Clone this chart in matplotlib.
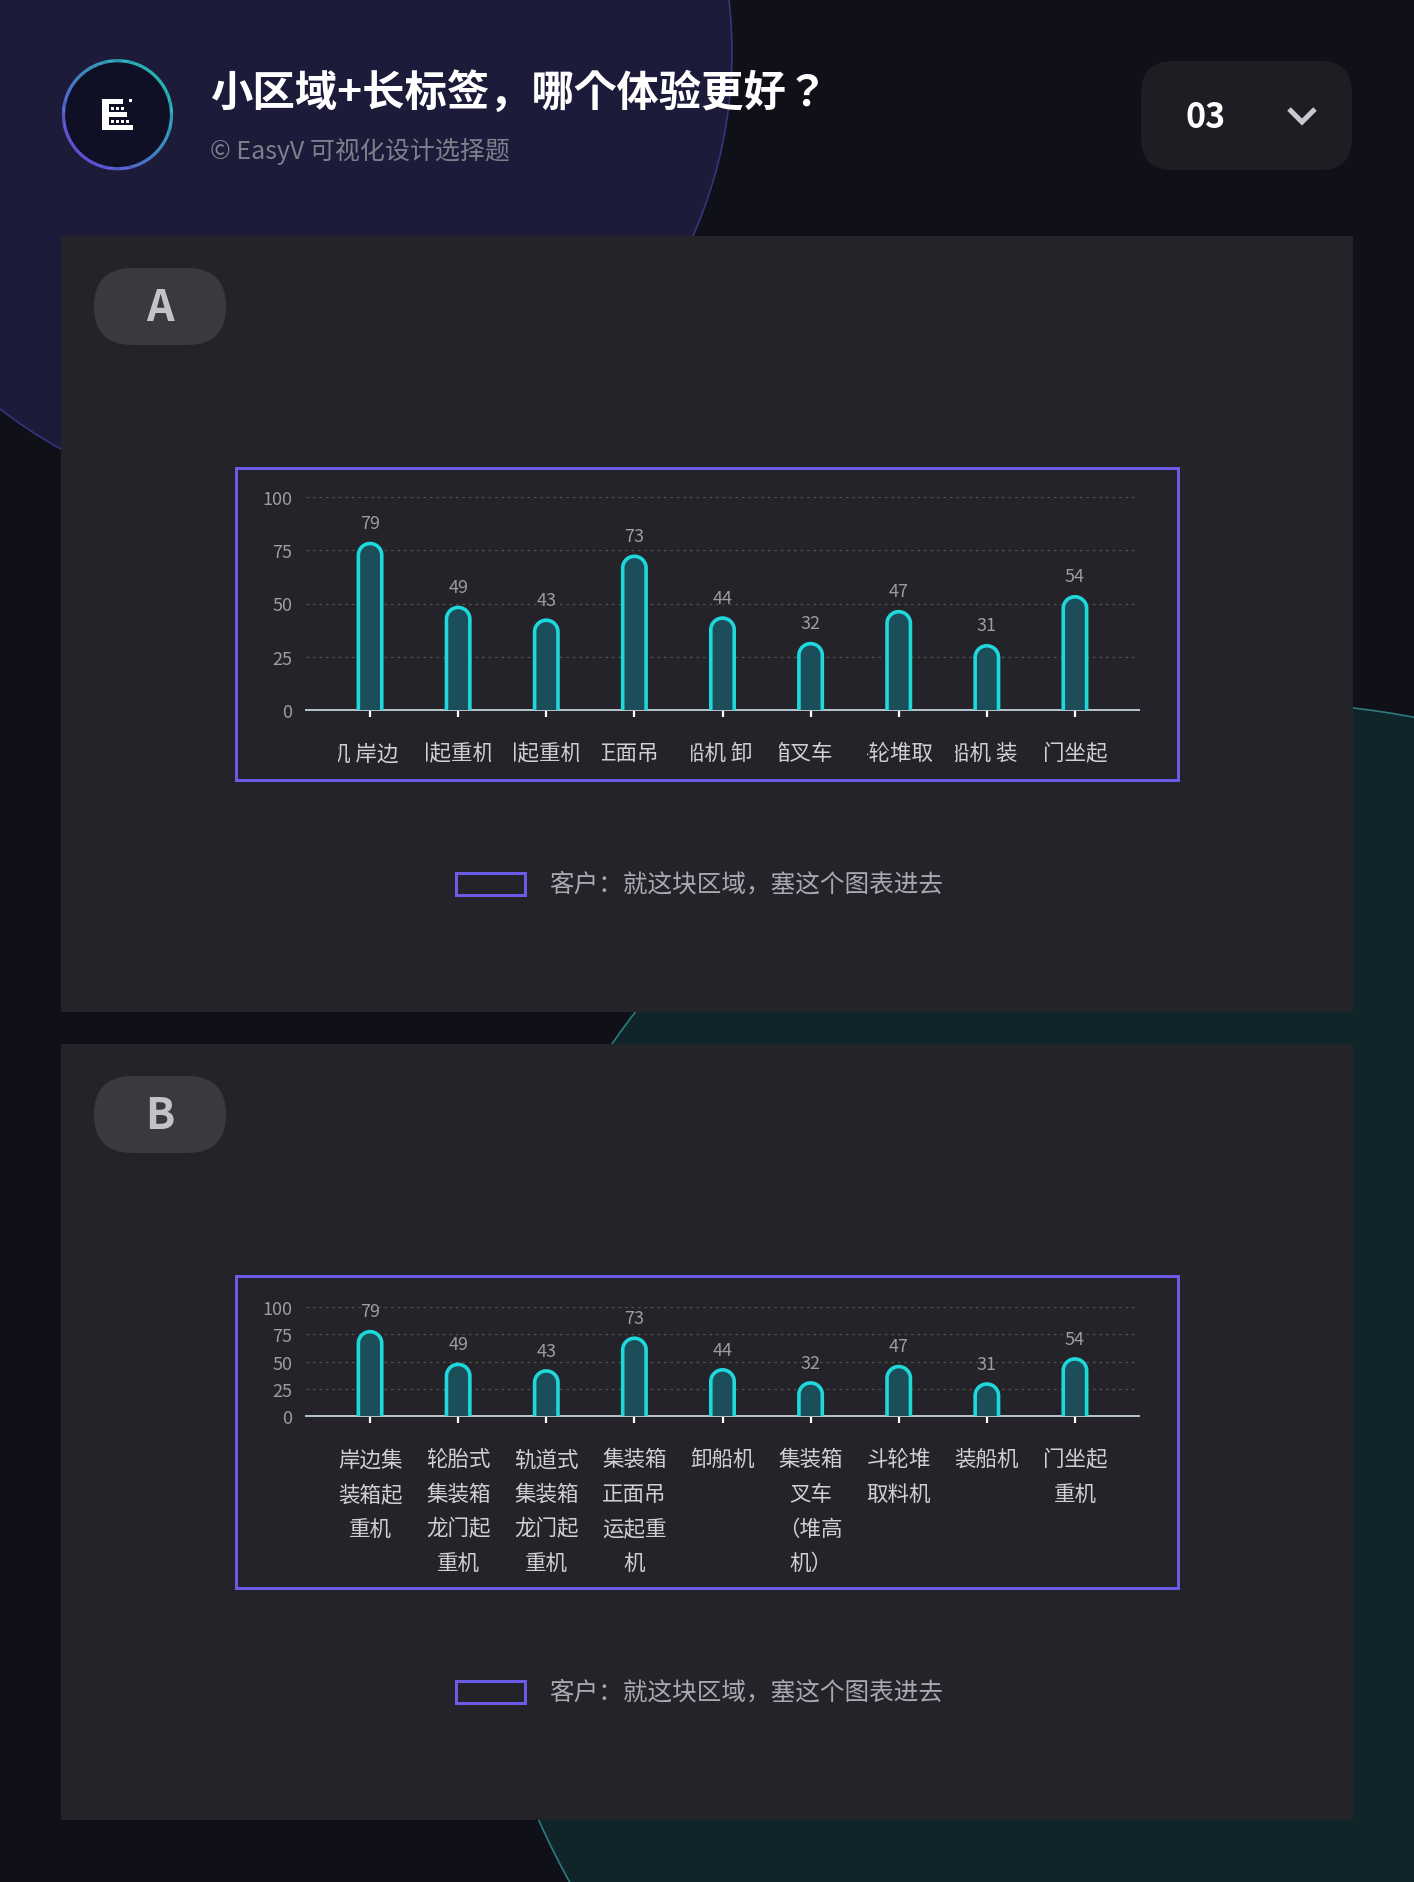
import numpy as np
import matplotlib
matplotlib.use("Agg")
import matplotlib.pyplot as plt
from matplotlib.patches import Circle, FancyBboxPatch, Rectangle, PathPatch
from matplotlib.path import Path
from matplotlib.transforms import IdentityTransform, Bbox
from matplotlib.collections import LineCollection

plt.rcParams['font.family'] = ['Noto Sans CJK SC', 'DejaVu Sans']

# ---------------- data ----------------
title = "小区域+长标签，哪个体验更好？"
subtitle = "© EasyV 可视化设计选择题"
page_no = "03"
panel_names = ["A", "B"]
legend_text = "客户：就这块区域，塞这个图表进去"
categories = ["岸边集装箱起重机", "轮胎式集装箱龙门起重机", "轨道式集装箱龙门起重机",
              "集装箱正面吊运起重机", "卸船机", "集装箱叉车（堆高机）",
              "斗轮堆取料机", "装船机", "门坐起重机"]
values = [79, 49, 43, 73, 44, 32, 47, 31, 54]
labels_wrapped = ["岸边集\n装箱起\n重机", "轮胎式\n集装箱\n龙门起\n重机", "轨道式\n集装箱\n龙门起\n重机",
                  "集装箱\n正面吊\n运起重\n机", "卸船机", "集装箱\n叉车\n（堆高\n机）",
                  "斗轮堆\n取料机", "装船机", "门坐起\n重机"]
yticks = [0, 25, 50, 75, 100]

# marquee scroll state of the truncated labels in chart A (in em)
marquee_scroll = [7.4, 7.85, 7.85, 3.35, 1.33, 2.5, 0.88, 1.33, 0.0]

# ---------------- figure ----------------
W, H, DPI = 1414, 1883, 100
PX = 72.0 / DPI  # points per pixel
fig = plt.figure(figsize=(W / DPI, H / DPI), dpi=DPI)
fig.patch.set_facecolor('#101018')
bg = fig.add_axes([0, 0, 1, 1])
bg.set_xlim(0, W)
bg.set_ylim(H, 0)
bg.axis('off')

# background shapes
bg.add_patch(Circle((279, 53), 453, fc='#1c1b39', ec='#36357c', lw=1.2))
bg.add_patch(Circle((1264, 1498), 794, fc='#0f2529', ec='#2b7b80', lw=1.2))

# header logo
cx, cy, r = 117.5, 115.7, 54
bg.add_patch(Circle((cx, cy), r, fc='#0f0f26', ec='none'))
th = np.linspace(0, 2 * np.pi, 361)
pts = np.column_stack([cx + r * np.cos(th), cy - r * np.sin(th)])
segs = np.stack([pts[:-1], pts[1:]], axis=1)
mid = (th[:-1] + th[1:]) / 2
proj = (np.cos(mid - np.pi / 4) + 1) / 2  # 1 at top-right
c_teal = np.array([0.16, 0.83, 0.80])
c_purp = np.array([0.44, 0.36, 0.95])
cols = c_purp[None, :] * (1 - proj[:, None]) + c_teal[None, :] * proj[:, None]
bg.add_collection(LineCollection(segs, colors=cols, linewidths=3.2 * PX))
# stylised "E" icon
for (x0, y0, w, h) in [(102, 100, 7, 31), (102, 100, 21, 5), (102, 113, 25, 5),
                       (102, 126, 31, 5)]:
    bg.add_patch(Rectangle((x0, y0), w, h, fc='white', ec='none'))
for (x0, y0) in [(111, 107.5), (116, 107.5), (121, 107.5), (111, 120.5), (116, 120.5),
                 (121, 120.5), (126, 120.5), (129, 100)]:
    bg.add_patch(Rectangle((x0, y0), 3, 3, fc='white', ec='none'))

bg.text(210, 93, title, color='white', fontsize=30.5, fontweight='bold', ha='left', va='center',
        family=['Noto Sans CJK JP', 'DejaVu Sans'])
bg.text(210, 151, subtitle, color='#80808c', fontsize=18, ha='left', va='center')

# dropdown
bg.add_patch(FancyBboxPatch((1141, 62), 211, 109, boxstyle="round,pad=0,rounding_size=32",
                            fc='#1d1d24', ec='none'))
bg.text(1206, 117, page_no, color='white', fontsize=24.5, fontweight='bold', ha='center', va='center')
bg.plot([1289, 1302, 1315], [110, 123, 110], color='#c8c8d0', lw=5 * PX,
        solid_capstyle='butt', solid_joinstyle='miter')

# ---------------- panels ----------------
panel_tops = [237, 1045]
for name, top in zip(panel_names, panel_tops):
    bg.add_patch(Rectangle((61, top), 1292, 776, fc='#232329', ec='none'))
    bg.add_patch(FancyBboxPatch((94, top + 32), 132, 77, boxstyle="round,pad=0,rounding_size=38.5",
                                fc='#39393f', ec='none'))
    bg.text(160, top + 71, name, color='#c2c2c8', fontsize=31, fontweight='bold',
            ha='center', va='center')
    bg.add_patch(Rectangle((235.5, top + 231.5), 942, 312, fill=False, ec='#6b5be6', lw=3 * PX))
    bg.add_patch(Rectangle((456, top + 637), 69, 22, fill=False, ec='#6b5be6', lw=3 * PX))
    bg.text(549, top + 648, legend_text, color='#a9a9b1', fontsize=17.7, ha='left', va='center')


# ---------------- charts ----------------
def make_axes(y0px, y100px):
    ax = fig.add_axes([306 / W, 1 - y0px / H, 833 / W, (y0px - y100px) / H])
    ax.set_facecolor('none')
    ax.set_xlim(-0.727, 8.727)
    ax.set_ylim(0, 100)
    for s in ['top', 'right', 'left']:
        ax.spines[s].set_visible(False)
    ax.spines['bottom'].set_color('#b4c0c8')
    ax.spines['bottom'].set_linewidth(2 * PX)
    ax.set_yticks(yticks)
    ax.set_yticklabels([str(t) for t in yticks])
    ax.tick_params(axis='y', length=0, pad=10, labelsize=13, labelcolor='#9c9ca2')
    ax.set_xticks(range(len(categories)))
    ax.set_xticklabels([])
    ax.tick_params(axis='x', length=7 * PX, width=2.2 * PX, color='white', direction='out')
    ax.yaxis.grid(True, linestyle=(0, (2, 3)), color='#52524a', lw=1.3 * PX)
    ax.set_axisbelow(True)
    gl = ax.get_ygridlines()
    gl[0].set_visible(False)
    return ax


def draw_bars(ax):
    outer_w, lw = 27.0, 3.6
    rr = (outer_w - lw) / 2
    for i, v in enumerate(values):
        xc, yb = ax.transData.transform((i, 0))
        _, yt = ax.transData.transform((i, v))
        top = yt - lw / 2
        ccy = top - rr
        ang = np.linspace(np.pi, 0, 50)
        arc = np.column_stack([xc + rr * np.cos(ang), ccy + rr * np.sin(ang)])
        outline = np.vstack([[xc - rr, yb], arc, [xc + rr, yb]])
        fillp = np.vstack([outline, [xc - rr, yb]])
        ax.add_patch(PathPatch(Path(fillp), transform=IdentityTransform(), fc='#1c4e5a',
                               ec='none', clip_on=False, zorder=3))
        ax.add_patch(PathPatch(Path(outline), transform=IdentityTransform(), fill=False,
                               ec='#1fd8dc', lw=lw * PX, clip_on=False, zorder=4,
                               joinstyle='round', capstyle='butt'))
        ax.annotate(str(v), xy=(i, v), xytext=(0, 13.5), textcoords='offset pixels',
                    ha='center', va='baseline', fontsize=13, color='#9c9ca2', zorder=5)


label_fs = 15.5
em = label_fs * DPI / 72.0
lab_color = '#cfcfd4'
win_l, win_r = 32, 33           # visible window around each category (px)
win_em = (win_l + win_r) / em


def char_w(ch):
    return 0.224 if ch == " " else 1.0


# chart A: truncated (scrolling) labels
axA = make_axes(711, 498)
draw_bars(axA)
for i, name in enumerate(categories):
    marquee = name + " " + name
    s0 = marquee_scroll[i]
    pos, start_pos, vis = 0.0, None, ""
    for ch in marquee:
        w = char_w(ch)
        if pos + w > s0 and pos + w <= s0 + win_em + 0.2:
            if start_pos is None:
                start_pos = pos
            vis += ch
        pos += w
    xd, yd = axA.transData.transform((i, 0))
    t = axA.annotate(vis, xy=(i, 0), xytext=(-win_l - (s0 - start_pos) * em, -41 - 0.38 * em),
                     textcoords='offset pixels', ha='left', va='baseline',
                     fontsize=label_fs, color=lab_color, annotation_clip=False)
    t.set_clip_path(None)
    t.set_clip_box(Bbox.from_extents(xd - win_l, yd - 80, xd + win_r, yd - 10))
    t.set_clip_on(True)

# chart B: wrapped labels
axB = make_axes(1417, 1308)
draw_bars(axB)
for i, lab in enumerate(labels_wrapped):
    for k, line in enumerate(lab.split("\n")):
        axB.annotate(line, xy=(i, 0), xytext=(0, -41 - 34.7 * k - 0.38 * em),
                     textcoords='offset pixels', ha='center', va='baseline',
                     fontsize=label_fs, color=lab_color, annotation_clip=False)

fig.savefig("out.png", dpi=DPI, facecolor=fig.get_facecolor())
